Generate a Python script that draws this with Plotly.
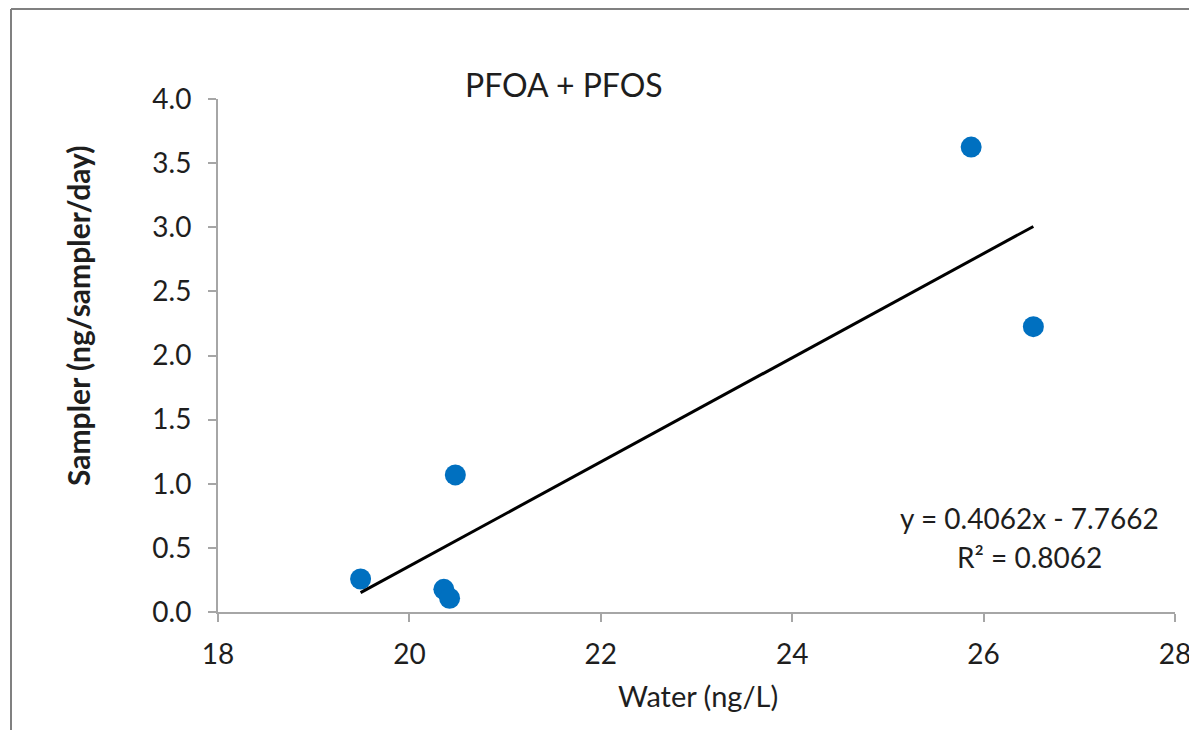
import plotly.graph_objects as go

# Data
water_x = [19.49, 20.36, 20.42, 20.48, 25.87, 26.52]
sampler_y = [0.257, 0.177, 0.107, 1.069, 3.625, 2.225]
slope = 0.4062
intercept = -7.7662
r_squared = 0.8062
x_ticks = [18, 20, 22, 24, 26, 28]
y_ticks = [0.0, 0.5, 1.0, 1.5, 2.0, 2.5, 3.0, 3.5, 4.0]

FONT = "Lato"
TXT = "#1e1e1e"
AX = "#a6a6a6"

# The page places the figure 8 px in from the top-left corner
OFF = 8
W, H = 1197 - OFF, 730 - OFF
# Plot area in reference pixels
L, R, T, B = 218, 1175, 99, 612
pw, ph = R - L, B - T

def px(x):
    return (x - L) / pw

def py(y):
    return (B - y) / ph

trend_x = [min(water_x), max(water_x)]
trend_y = [slope * v + intercept for v in trend_x]

fig = go.Figure()
fig.add_trace(go.Scatter(x=water_x, y=sampler_y, mode="markers",
                         marker=dict(color="#0070C0", size=21, line=dict(width=0)),
                         showlegend=False, cliponaxis=False))
fig.add_trace(go.Scatter(x=trend_x, y=trend_y, mode="lines",
                         line=dict(color="black", width=3),
                         showlegend=False))

fig.update_layout(
    width=W, height=H,
    margin=dict(l=L - OFF, r=1197 - R, t=T - OFF, b=730 - B, autoexpand=False),
    paper_bgcolor="white", plot_bgcolor="white",
    font=dict(family=FONT, size=28, color=TXT),
    xaxis=dict(range=[18, 28], tickvals=x_ticks, ticktext=[str(v) for v in x_ticks],
               showgrid=False, zeroline=False, showline=True, linecolor=AX, linewidth=2,
               ticks="outside", ticklen=8, tickwidth=2, tickcolor=AX, ticklabelstandoff=8,
               tickfont=dict(family=FONT, size=28, color=TXT)),
    yaxis=dict(range=[0, 4], tickvals=y_ticks, ticktext=[f"{v:.1f}" for v in y_ticks],
               showgrid=False, zeroline=False, showline=True, linecolor=AX, linewidth=2,
               ticks="outside", ticklen=8, tickwidth=2, tickcolor=AX, ticklabelstandoff=11,
               tickfont=dict(family=FONT, size=28, color=TXT)),
    shapes=[
        dict(type="line", xref="paper", yref="paper", x0=px(11), x1=px(11), y0=py(9), y1=py(740),
             line=dict(color="#808080", width=2)),
        dict(type="line", xref="paper", yref="paper", x0=px(11), x1=px(1210), y0=py(9), y1=py(9),
             line=dict(color="#808080", width=2)),
    ],
    annotations=[
        dict(text="PFOA + PFOS", xref="paper", yref="paper", x=px(564), y=py(85),
             xanchor="center", yanchor="middle", showarrow=False,
             font=dict(family=FONT, size=32, color=TXT)),
        dict(text="Water (ng/L)", xref="paper", yref="paper", x=px(698), y=py(695),
             xanchor="center", yanchor="middle", showarrow=False,
             font=dict(family=FONT, size=29, color=TXT)),
        dict(text="<b>Sampler (ng/sampler/day)</b>", xref="paper", yref="paper", x=px(78), y=py(316),
             xanchor="center", yanchor="middle", textangle=-90, showarrow=False,
             font=dict(family=FONT, size=30, color=TXT)),
        dict(text=f"y = {slope:.4f}x - {abs(intercept):.4f}", xref="paper", yref="paper",
             x=px(1029), y=py(518), xanchor="center", yanchor="middle", showarrow=False,
             font=dict(family=FONT, size=28, color=TXT)),
        dict(text=f"R² = {r_squared:.4f}", xref="paper", yref="paper",
             x=px(1029), y=py(557), xanchor="center", yanchor="middle", showarrow=False,
             font=dict(family=FONT, size=28, color=TXT)),
    ],
)

fig.write_html("out.html")
